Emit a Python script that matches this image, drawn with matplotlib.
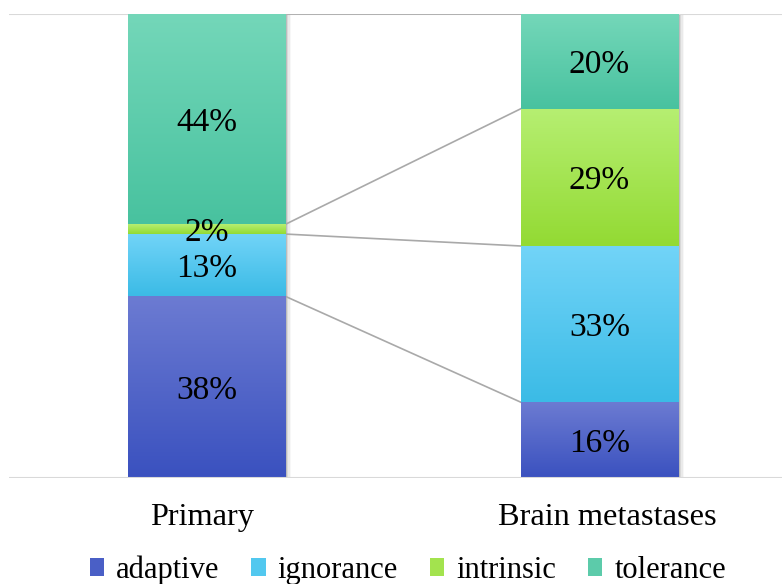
import numpy as np
import matplotlib.pyplot as plt
from matplotlib.colors import LinearSegmentedColormap
from matplotlib.patches import Rectangle

plt.rcParams['font.family'] = ['Liberation Serif', 'DejaVu Serif']

groups = ["Primary", "Brain metastases"]
series = ["adaptive", "ignorance", "intrinsic", "tolerance"]
values = {
    "adaptive": [38, 16],
    "ignorance": [13, 33],
    "intrinsic": [2, 29],
    "tolerance": [44, 20],
}

# light (top) and dark (bottom) end of each segment's gradient
top_colors = ["#6c7bd2", "#72d4f8", "#b6ef72", "#74d7b9"]
bottom_colors = ["#3a51bf", "#3bbbe6", "#93da33", "#48c29f"]
legend_colors = ["#4a5fc6", "#52c8ef", "#a3e34e", "#5ccbaa"]

bar_width = 0.4
x = np.arange(len(groups))

fig = plt.figure(figsize=(7.82, 5.84), dpi=100)
ax = fig.add_axes([9 / 782, 106 / 584, 773 / 782, 464 / 584])

totals = np.sum([values[s] for s in series], axis=0).astype(float)
bottoms = np.zeros(len(groups))
tops_per_series = []

grad = np.linspace(0, 1, 256).reshape(-1, 1)

for si, name in enumerate(series):
    vals = np.array(values[name], dtype=float)
    share = vals / totals
    cmap = LinearSegmentedColormap.from_list(name, [top_colors[si], bottom_colors[si]])
    for gi in range(len(groups)):
        y0 = bottoms[gi]
        y1 = y0 + share[gi]
        x0 = x[gi] - bar_width / 2
        x1 = x[gi] + bar_width / 2
        # row 0 of the gradient sits at the top of the segment
        ax.imshow(grad, cmap=cmap, extent=[x0, x1, y0, y1], aspect='auto',
                  interpolation='bilinear', zorder=3, origin='upper')
        ax.text(x[gi], (y0 + y1) / 2, f"{vals[gi]:.0f}%", ha='center',
                va='center_baseline', fontsize=24, color='black', zorder=6)
    bottoms = bottoms + share
    tops_per_series.append(bottoms.copy())

# soft shadow on the right of each bar
for gi in range(len(groups)):
    for k, a in enumerate([0.12, 0.08, 0.05, 0.03]):
        ax.add_patch(Rectangle((x[gi] - bar_width / 2 + 0.004 * (k + 1), -0.002),
                               bar_width, 1.0, facecolor='#000000', alpha=a,
                               edgecolor='none', zorder=2))

# series lines between the two bars
for tops in tops_per_series:
    ax.plot([x[0] + bar_width / 2, x[1] - bar_width / 2], [tops[0], tops[1]],
            color='#a9a9a9', lw=1.2, zorder=2.5)

ax.axhline(1.0, color='#d9d9d9', lw=1.5, zorder=1)
ax.axhline(0.0, color='#d9d9d9', lw=1.5, zorder=4)

ax.set_xlim(-0.5025, 1.4644)
ax.set_ylim(0, 1.0)
for spine in ax.spines.values():
    spine.set_visible(False)
ax.set_xticks([])
ax.set_yticks([])

for gi, g in enumerate(groups):
    ax.text(x[gi] + (0.02 if gi else -0.01), -0.086, g, ha='center', va='center',
            fontsize=23.3)

handles = [Rectangle((0, 0), 1, 1, facecolor=c, edgecolor='none') for c in legend_colors]
fig.legend(handles, series, loc='center', bbox_to_anchor=(408 / 782, 1 - 570 / 584),
           ncol=4, frameon=False, fontsize=22, handlelength=0.46, handleheight=0.5,
           handletextpad=0.4, columnspacing=1.05, borderpad=0)

fig.savefig("out.png", dpi=100)
